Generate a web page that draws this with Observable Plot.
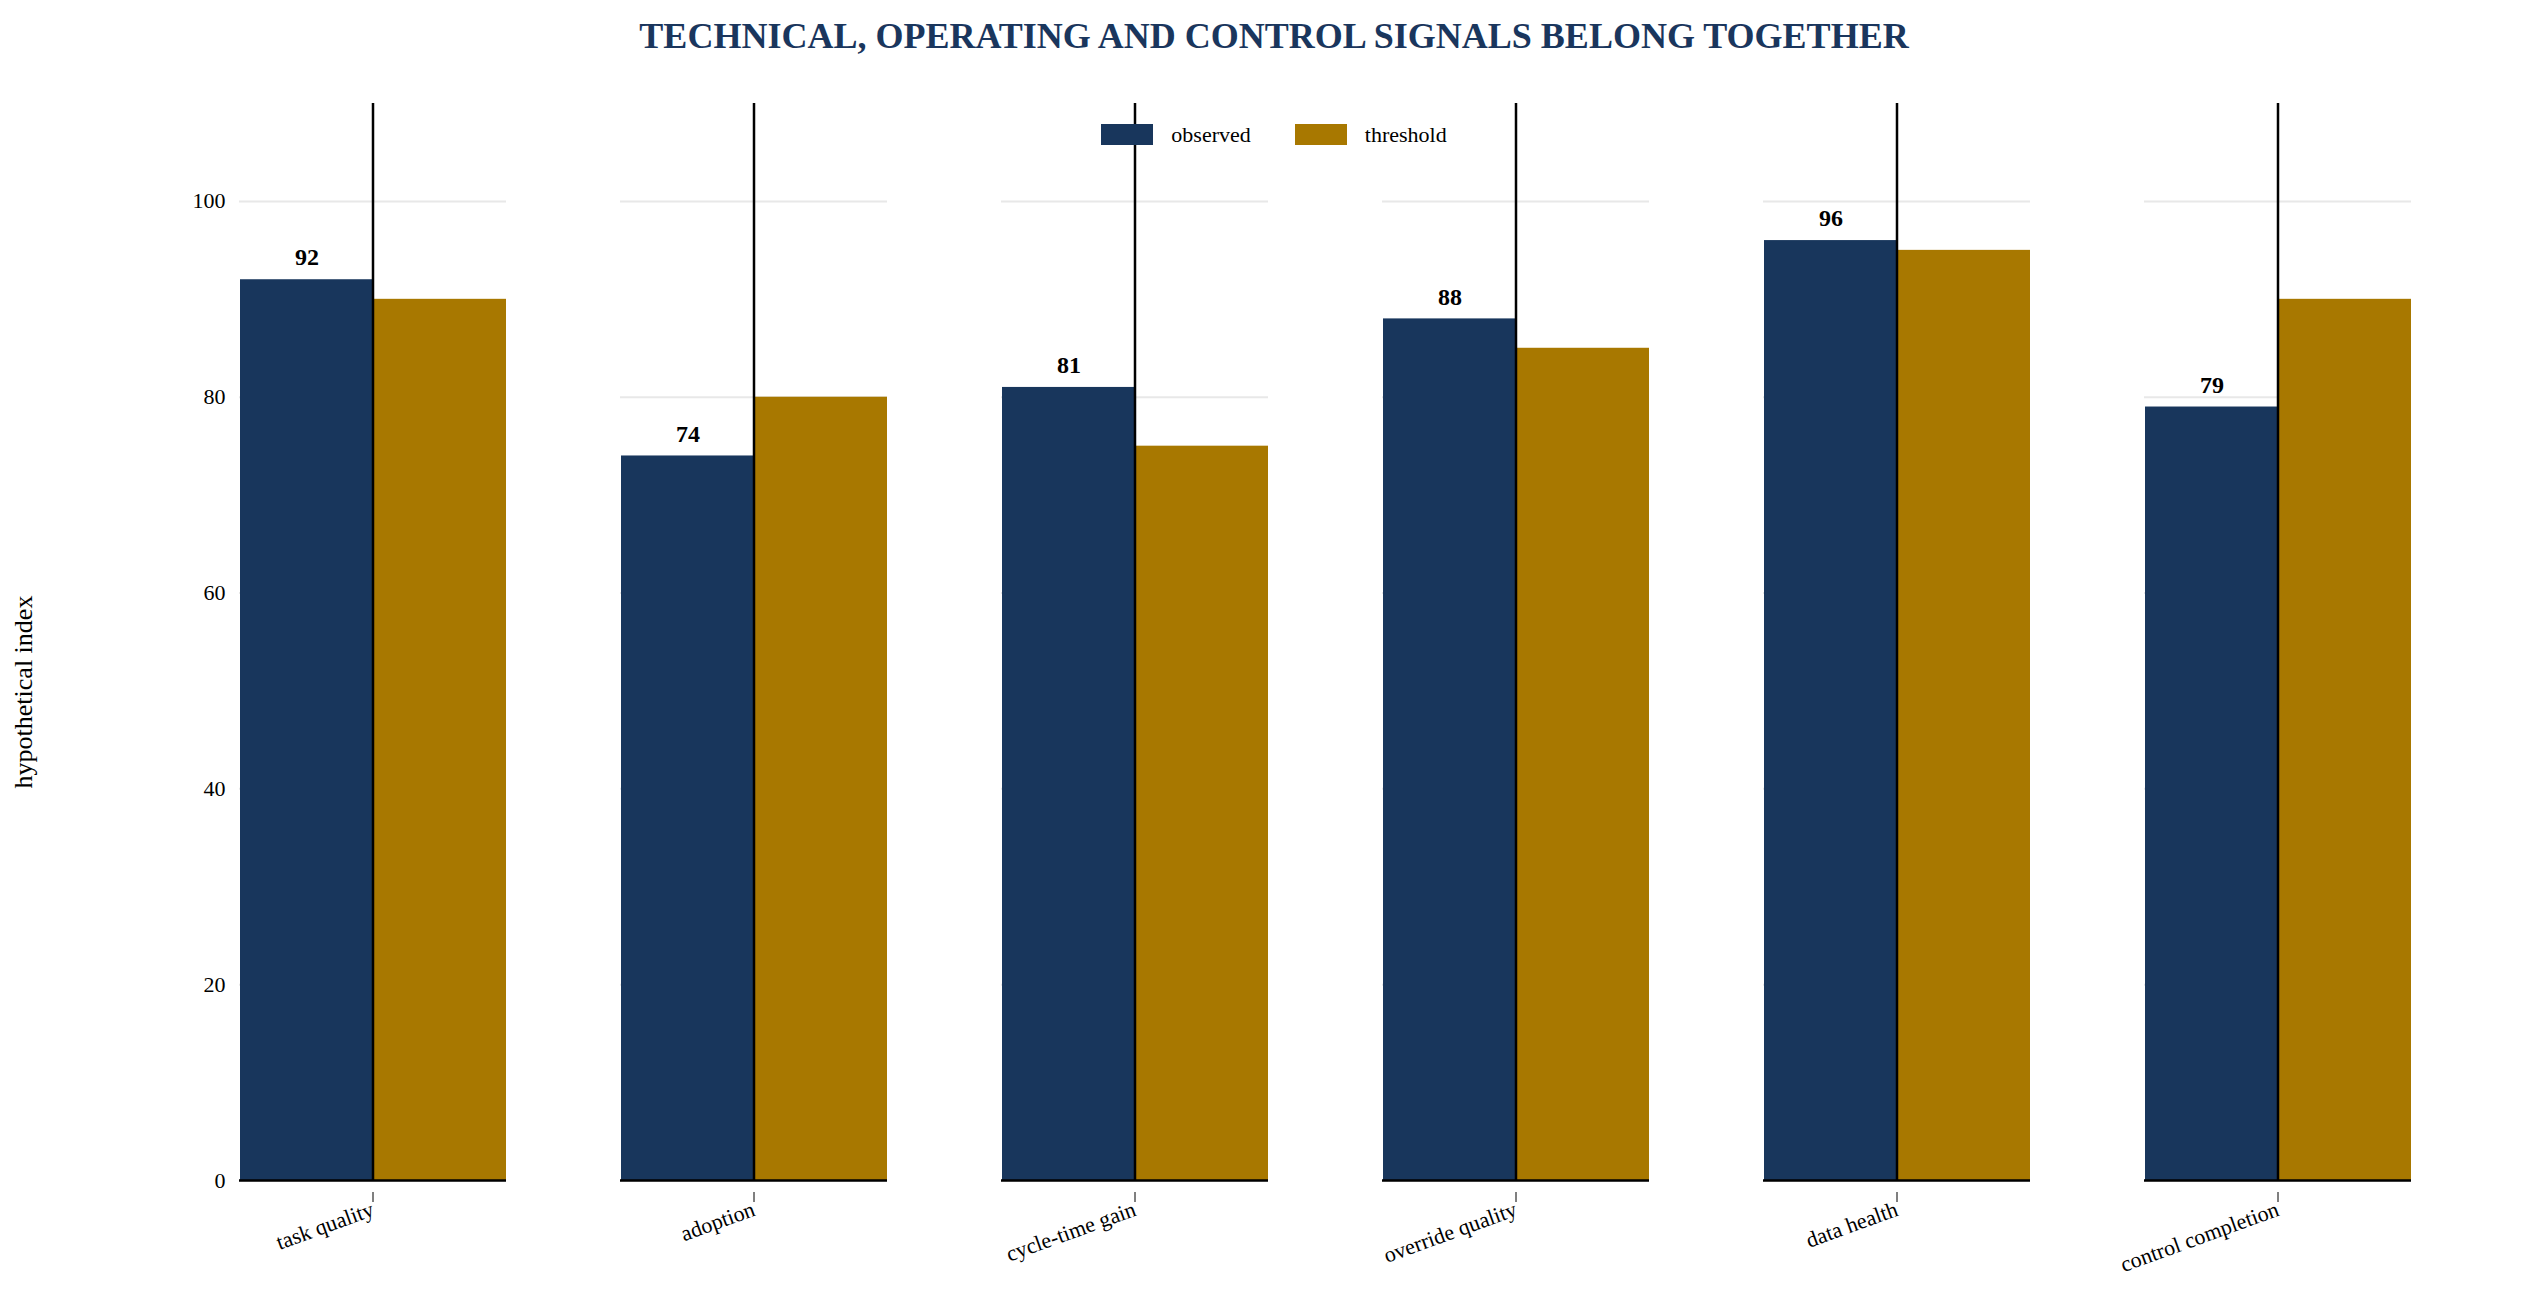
<!DOCTYPE html>
<html><head><meta charset="utf-8">
<script src="https://cdn.jsdelivr.net/npm/d3@7"></script>
<script src="https://cdn.jsdelivr.net/npm/@observablehq/plot@0.6"></script>
<style>
body{margin:0;background:#fff;font-family:"Liberation Serif",serif;}
#title{height:70px;line-height:72px;text-align:center;font-weight:bold;font-size:36px;color:#1a365d;}
#wrap{position:relative;}
#legend{position:absolute;top:52px;left:0;width:2548px;text-align:center;font-size:22px;}
#legend span{display:inline-block;margin:0 22px;}
#legend i{display:inline-block;width:52px;height:21px;vertical-align:-3px;margin-right:18px;}
</style></head><body>
<div id="title">TECHNICAL, OPERATING AND CONTROL SIGNALS BELONG TOGETHER</div>
<div id="wrap"><div id="legend"><span><i style="background:#18365c"></i>observed</span><span><i style="background:#a87800"></i>threshold</span></div></div>
<script>
const categories = ["task quality","adoption","cycle-time gain","override quality","data health","control completion"];
const series = ["observed","threshold"];
const observed = [92,74,81,88,96,79];
const threshold = [90,80,75,85,95,90];
const colors = ["#18365c","#a87800"];
const yTicks = [0,20,40,60,80,100];
const data = [];
categories.forEach((c,i)=>{data.push({c,s:"observed",v:observed[i]});data.push({c,s:"threshold",v:threshold[i]});});
const chart = Plot.plot({
  width:2548, height:1244,
  marginLeft:127, marginRight:24, marginTop:33, marginBottom:134,
  style:{fontFamily:"Liberation Serif, serif", fontSize:"22px", background:"#fff"},
  fx:{domain:categories, paddingInner:0.298, paddingOuter:0.287, label:null},
  x:{domain:series, padding:0, axis:null},
  y:{domain:[0,110], label:null},
  color:{domain:series, range:colors},
  marks:[
    Plot.gridY(yTicks,{stroke:"#e8e8e8", strokeOpacity:1, strokeWidth:2}),
    Plot.barY(data,{fx:"c", x:"s", y:"v", fill:"s"}),
    Plot.text(data.filter(d=>d.s==="observed"),{fx:"c", x:"s", y:"v", text:d=>String(d.v), dy:-22, fontWeight:"bold", fontSize:24, fill:"#000"}),
    Plot.axisY(yTicks,{tickSize:0, tickPadding:14, fontSize:22}),
    Plot.axisFx({anchor:"bottom", tickRotate:-20, tickSize:10, tickPadding:6, fontSize:22, textAnchor:"end", dx:0, dy:12}),
    Plot.ruleY([0],{stroke:"#000", strokeWidth:2.5}),
    Plot.ruleX([0],{x:null, frameAnchor:"left", stroke:"#000", strokeWidth:2.5})
  ]
});
document.getElementById("wrap").appendChild(chart);
// y-axis title
const svg = d3.select(chart);
svg.append("text").attr("transform","translate(32,622) rotate(-90)").attr("text-anchor","middle").attr("font-size",26).attr("font-family","Liberation Serif, serif").text("hypothetical index");
</script></body></html>
